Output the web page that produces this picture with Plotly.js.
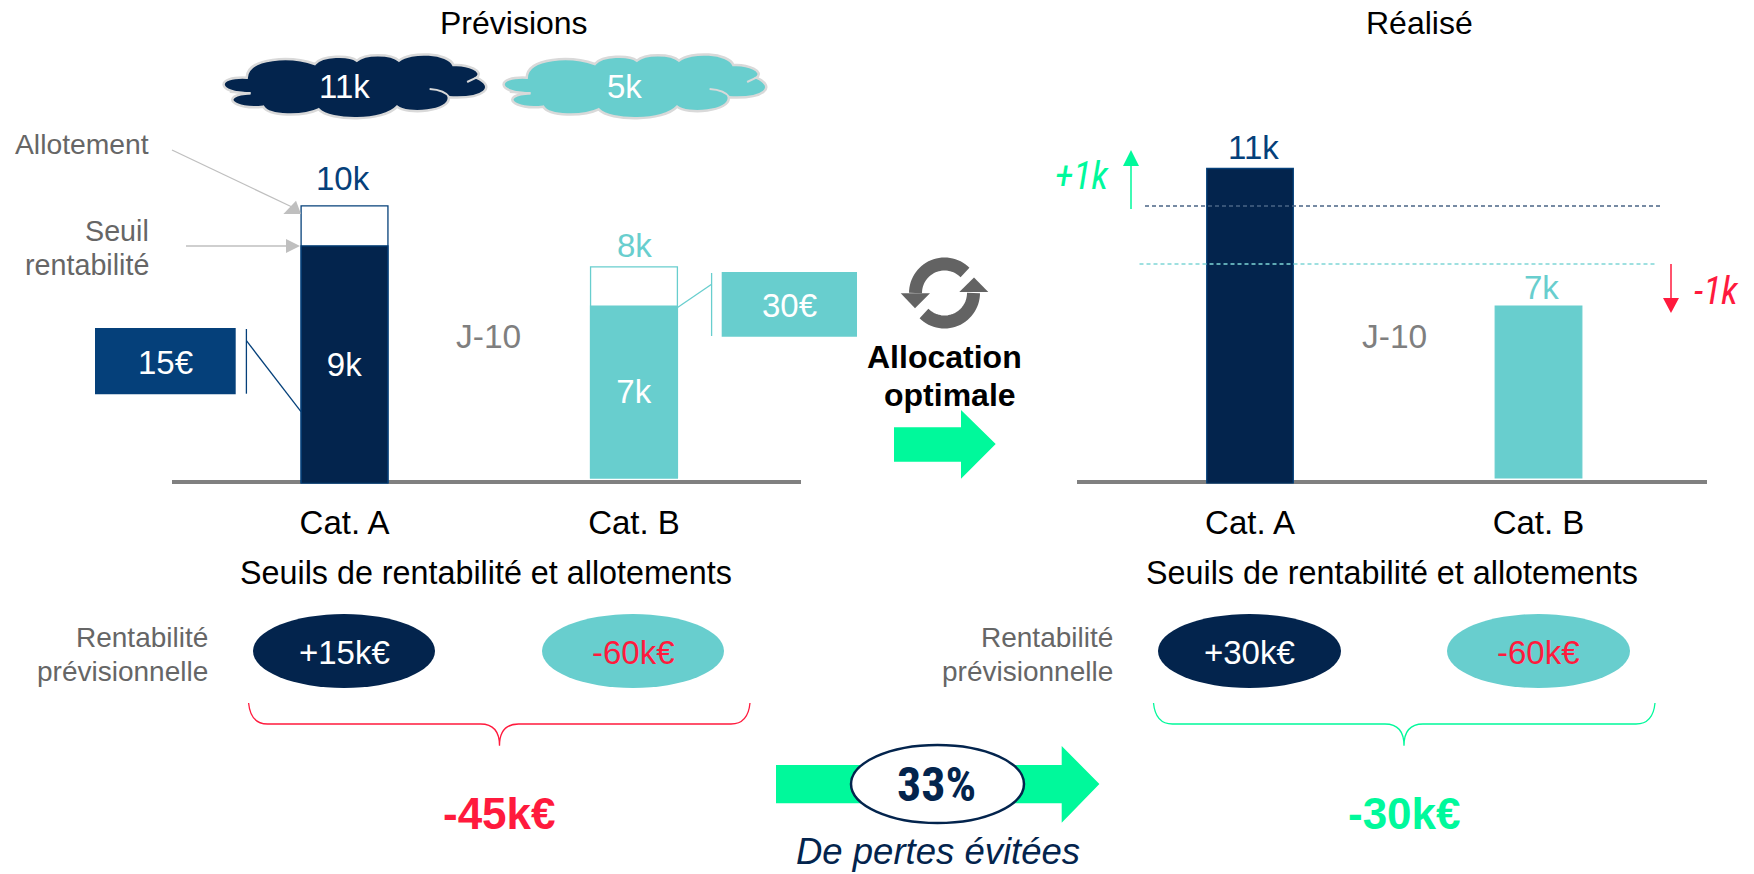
<!DOCTYPE html>
<html><head><meta charset="utf-8">
<script src="https://cdn.plot.ly/plotly-3.0.1.min.js"></script>
<style>html,body{margin:0;padding:0;background:#fff}#c{width:1754px;height:874px}</style>
</head><body><div id="c"></div>
<script>
// ---- data ----
const categories = ['Cat. A', 'Cat. B'];
const previsionSeuil = [8.79, 7.07];
const previsionAllot = [9.93, 8.19];
const realise = [11.0, 7.07];
const barBase = [2, 2.16];
const seuilLabels = ['9k', '7k'];
const allotLabels = ['10k', '8k'];
const realiseLabels = ['11k', '7k'];
const demande = ['11k', '5k'];
const prix = ['15€', '30€'];
const rentaPrev = ['+15k€', '-60k€'];
const rentaReal = ['+30k€', '-60k€'];
const totaux = ['-45k€', '-30k€'];
const ecartLabels = ['+1k', '-1k'];
const seuilLignes = [9.93, 8.27];

// ---- style ----
const W = 1754, H = 874;
const NAVY = '#03244D', BLUE = '#05407A', TEAL = '#68CECE', GREEN = '#00F99B', RED = '#FF1A3D';
const GREY = '#666666', LGREY = '#BFBFBF';
const FONT = 'Liberation Sans', NARROW = '"Roboto Condensed","Open Sans Condensed","Noto Sans Condensed","DejaVu Sans Condensed","Liberation Sans"';
const px = x => x / W, py = y => 1 - y / H;
const P = (x, y) => px(x).toFixed(5) + ',' + py(y).toFixed(5);

const shapes = [], annotations = [];
function T(text, x, y, size, color, o = {}) {
  annotations.push({ text, x: px(x), y: py(y), xref: 'paper', yref: 'paper', showarrow: false,
    xanchor: o.anchor || 'center', yanchor: 'middle', align: o.anchor || 'center',
    font: { family: o.family || FONT, size, color, weight: o.weight || 400, style: o.style || 'normal' } });
}
function rect(x0, y0, x1, y1, fill, layer) {
  shapes.push({ type: 'rect', xref: 'paper', yref: 'paper', x0: px(x0), x1: px(x1), y0: py(y1), y1: py(y0),
    fillcolor: fill, line: { width: 0 }, layer: layer || 'above' });
}
function oval(x0, y0, x1, y1, fill, line) {
  shapes.push({ type: 'circle', xref: 'paper', yref: 'paper', x0: px(x0), x1: px(x1), y0: py(y1), y1: py(y0),
    fillcolor: fill, line: line || { width: 0 }, layer: 'above' });
}
function path(d, fill, line, layer) {
  shapes.push({ type: 'path', xref: 'paper', yref: 'paper', path: d, fillcolor: fill || 'rgba(0,0,0,0)',
    line: line || { width: 0 }, layer: layer || 'above' });
}
function seg(x0, y0, x1, y1, color, width, dash) {
  shapes.push({ type: 'line', xref: 'paper', yref: 'paper', x0: px(x0), x1: px(x1), y0: py(y0), y1: py(y1),
    line: { color, width: width || 1, dash: dash || 'solid' }, layer: 'above' });
}
function poly(pts, fill) {
  path('M' + pts.map(p => P(p[0], p[1])).join(' L') + ' Z', fill);
}
function cloud(dx, fill) {
  const X = zx => 200 + zx / 2.613 + dx, Y = zy => 40 + zy / 3;
  const C = (a, b, c, d, e, f) => ` C${P(X(a), Y(b))} ${P(X(c), Y(d))} ${P(X(e), Y(f))}`;
  const d = 'M' + P(X(122), Y(113)) +
    C(125, 50, 240, 48, 300, 72) +
    C(320, 45, 390, 45, 410, 62) +
    C(430, 40, 500, 40, 520, 62) +
    C(550, 33, 650, 38, 662, 75) +
    C(700, 72, 745, 95, 722, 113) +
    C(775, 140, 745, 178, 650, 172) +
    C(655, 215, 540, 225, 515, 200) +
    C(480, 245, 340, 245, 310, 208) +
    C(270, 230, 180, 230, 165, 200) +
    C(90, 212, 45, 165, 132, 160) +
    C(40, 160, 40, 108, 122, 113) + ' Z';
  path(d, fill, { color: '#D9D9D9', width: 2.5 });
  const l = { color: '#D9D9D9', width: 2 };
  path('M' + P(X(600), Y(147)) + ' Q' + P(X(640), Y(150)) + ' ' + P(X(652), Y(172)), null, l);
  path('M' + P(X(698), Y(126)) + ' L' + P(X(722), Y(113)), null, l);
  path('M' + P(X(78), Y(156)) + ' L' + P(X(132), Y(160)), null, l);
}
function brace(x0, x1, xc, color) {
  const y0 = 703, y1 = 724, y2 = 745.7;
  path('M' + P(x0, y0) + ' Q' + P(x0 + 2, y1) + ' ' + P(x0 + 19, y1) + ' L' + P(xc - 19, y1) +
    ' Q' + P(xc, y1) + ' ' + P(xc, y2) + ' Q' + P(xc, y1) + ' ' + P(xc + 19, y1) +
    ' L' + P(x1 - 19, y1) + ' Q' + P(x1 - 2, y1) + ' ' + P(x1, y0), null, { color, width: 1.3 });
}
function arc(cx, cy, r, a0, a1, color, w) {
  const pts = [];
  for (let i = 0; i <= 30; i++) {
    const a = (a0 + (a1 - a0) * i / 30) * Math.PI / 180;
    pts.push(P(cx + r * Math.cos(a), cy + r * Math.sin(a)));
  }
  path('M' + pts.join(' L'), null, { color, width: w });
}

// ---- axis lines ----
rect(172, 480, 801, 484, '#808080', 'below');
rect(1077, 480, 1707, 484, '#808080', 'below');

// ---- left panel decoration ----
T('Prévisions', 513.5, 23.5, 32, '#000');
T('Réalisé', 1419.5, 23.5, 32, '#000');
cloud(0, NAVY); cloud(280, TEAL);
T(demande[0], 344, 87, 33, '#fff'); T(demande[1], 624.5, 87, 33, '#fff');

T('Allotement', 150.5, 144, 28.3, GREY, { anchor: 'right' });
T('Seuil', 150.5, 231, 28.7, GREY, { anchor: 'right' });
T('rentabilité', 150.5, 265, 28.7, GREY, { anchor: 'right' });
seg(172, 150, 292, 207, LGREY, 1.3);
poly([[296, 200.7], [283.4, 214], [301, 214]], LGREY);
seg(186, 246, 287, 246, LGREY, 1.5);
poly([[286, 239], [286, 253], [300, 246]], LGREY);

T(allotLabels[0], 342.5, 178, 33, BLUE);
T(allotLabels[1], 634, 245, 33, TEAL);

rect(95, 328, 235.7, 394.3, BLUE);
T(prix[0], 165.5, 362, 33, '#fff');
seg(246.4, 329, 246.4, 393.7, BLUE, 1.3);
seg(246.4, 340.7, 301, 411.7, BLUE, 1.3);

rect(721.7, 272, 857, 336.7, TEAL);
T(prix[1], 789, 305.7, 33, '#fff');
seg(711.6, 273, 711.6, 336, TEAL, 1.3);
seg(711.6, 284.3, 676.8, 308, TEAL, 1.3);

T('J-10', 488, 337, 33.5, '#7F7F7F');
T('J-10', 1394, 337, 33.5, '#7F7F7F');

// ---- centre ----
arc(944.5, 293, 29, -45, -180, '#636363', 13);
poly([[900.7, 293.3], [930, 293.3], [915, 308.3]], '#636363');
arc(944.5, 293, 29, 135, 0, '#636363', 13);
poly([[988.3, 292], [959.3, 292], [974, 277.5]], '#636363');
T('<b>Allocation</b>', 944.5, 356.5, 32, '#000');
T('<b>optimale</b>', 950, 395, 32, '#000');
poly([[894, 427.3], [961, 427.3], [961, 410], [995.7, 444], [961, 478.7], [961, 461.7], [894, 461.7]], GREEN);

// ---- right panel decoration ----
T(realiseLabels[0], 1253, 147, 33, BLUE);
T(realiseLabels[1], 1541, 287, 33, TEAL);
shapes.push({ type: 'line', xref: 'paper', yref: 'y2', x0: px(1145), x1: px(1661), y0: seuilLignes[0], y1: seuilLignes[0],
  line: { color: '#4A6485', width: 1.5, dash: '4px,3px' }, layer: 'above' });
shapes.push({ type: 'line', xref: 'paper', yref: 'y2', x0: px(1139.5), x1: px(1655), y0: seuilLignes[1], y1: seuilLignes[1],
  line: { color: '#7FD6D6', width: 1.5, dash: '4px,3px' }, layer: 'above' });
T('<i>' + ecartLabels[0] + '</i>', 1082.5, 176, 38, GREEN, { family: NARROW });
seg(1131, 209, 1131, 165, GREEN, 1.5);
poly([[1123, 166], [1139, 166], [1131, 150]], GREEN);
T('<i>' + ecartLabels[1] + '</i>', 1716, 291, 38, RED, { family: NARROW });
seg(1671, 264, 1671, 299, RED, 1.5);
poly([[1663, 298], [1679, 298], [1671, 313]], RED);

// ---- lower rows ----
T('Seuils de rentabilité et allotements', 486.5, 572.5, 32.3, '#000');
T('Seuils de rentabilité et allotements', 1392, 572.5, 32.3, '#000');
T('Rentabilité', 209.5, 637.7, 28, GREY, { anchor: 'right' });
T('prévisionnelle', 209.5, 671, 28, GREY, { anchor: 'right' });
T('Rentabilité', 1114.5, 637.7, 28, GREY, { anchor: 'right' });
T('prévisionnelle', 1114.5, 671, 28, GREY, { anchor: 'right' });
oval(253, 614, 435, 688, NAVY); oval(542, 614, 724, 688, TEAL);
oval(1158, 614, 1341, 688, NAVY); oval(1447, 614, 1630, 688, TEAL);
T(rentaPrev[0], 344.5, 652.5, 33, '#fff'); T(rentaPrev[1], 633.5, 652.5, 33, RED);
T(rentaReal[0], 1249.5, 652.5, 33, '#fff'); T(rentaReal[1], 1538.5, 652.5, 33, RED);
brace(248.6, 750, 499.5, RED);
brace(1153.5, 1655, 1404, GREEN);
T('<b>' + totaux[0] + '</b>', 499.5, 813, 44, RED);
T('<b>' + totaux[1] + '</b>', 1404, 813, 44, GREEN);
poly([[776, 765], [1061.7, 765], [1061.7, 746], [1099.4, 784], [1061.7, 822.7], [1061.7, 803.3], [776, 803.3]], GREEN);
oval(851, 745, 1024, 823, '#fff', { color: NAVY, width: 2.5 });
T('<b>33%</b>', 936.5, 784, 48, NAVY, { family: NARROW });
T('<i>De pertes évitées</i>', 937.5, 851, 36.5, NAVY);

// ---- traces ----
const xs = [0, 1];
const span = (a, b) => a.map((v, i) => v - b[i]);
const barCommon = { type: 'bar', x: xs, width: 0.3, hoverinfo: 'skip', cliponaxis: false, showlegend: false };
const traces = [
  { ...barCommon, y: span(previsionAllot, barBase), base: barBase, xaxis: 'x', yaxis: 'y',
    marker: { color: '#fff', line: { color: [BLUE, TEAL], width: 1.3 } } },
  { ...barCommon, y: span(previsionSeuil, barBase), base: barBase, xaxis: 'x', yaxis: 'y',
    marker: { color: [NAVY, TEAL], line: { color: [BLUE, TEAL], width: 1.3 } },
    text: seuilLabels, textposition: 'inside', insidetextanchor: 'middle', textangle: 0,
    textfont: { family: FONT, size: 33, color: '#fff' }, constraintext: 'none' },
  { ...barCommon, y: span(realise, barBase), base: barBase, xaxis: 'x2', yaxis: 'y2',
    marker: { color: [NAVY, TEAL], line: { color: [BLUE, TEAL], width: 1.3 } } }
];
const xCommon = { tickmode: 'array', tickvals: xs, ticktext: categories, showgrid: false, zeroline: false,
  showline: false, ticks: '', ticklabelstandoff: 16, tickfont: { family: FONT, size: 33, color: '#000' }, fixedrange: true };
const yCommon = { range: [2, 12], visible: false, showgrid: false, zeroline: false, fixedrange: true };
const layout = {
  width: W, height: H, margin: { l: 0, r: 0, t: 0, b: 0 }, paper_bgcolor: '#fff', plot_bgcolor: 'rgba(0,0,0,0)',
  barmode: 'overlay', showlegend: false, font: { family: FONT },
  xaxis: { ...xCommon, domain: [px(172), px(801)], range: [-0.596, 1.577], anchor: 'y' },
  yaxis: { ...yCommon, domain: [py(483.5), py(133.5)], anchor: 'x' },
  xaxis2: { ...xCommon, domain: [px(1077), px(1707)], range: [-0.5997, 1.584], anchor: 'y2' },
  yaxis2: { ...yCommon, domain: [py(483.5), py(133.5)], anchor: 'x2' },
  shapes, annotations
};
Plotly.newPlot('c', traces, layout, { displayModeBar: false, staticPlot: true });
</script></body></html>
